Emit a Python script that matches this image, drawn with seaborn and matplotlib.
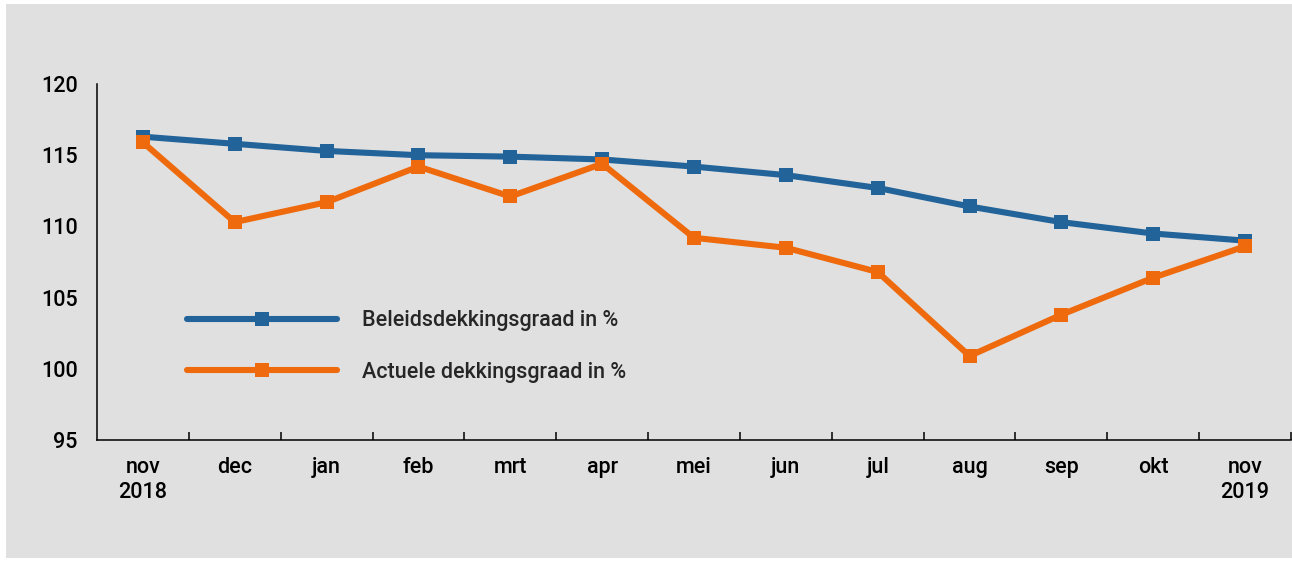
import numpy as np
import pandas as pd
import seaborn as sns
import matplotlib.pyplot as plt
from matplotlib.patches import Rectangle

months = ['nov\n2018', 'dec', 'jan', 'feb', 'mrt', 'apr', 'mei', 'jun',
          'jul', 'aug', 'sep', 'okt', 'nov\n2019']
beleids = [116.3, 115.8, 115.3, 115.0, 114.9, 114.7, 114.2, 113.6,
           112.7, 111.4, 110.3, 109.5, 109.0]
actueel = [115.9, 110.3, 111.7, 114.2, 112.1, 114.4, 109.2, 108.5,
           106.8, 100.9, 103.8, 106.4, 108.6]
series = ['Beleidsdekkingsgraad in %', 'Actuele dekkingsgraad in %']
colors = ['#22639a', '#ee6a0c']
yticks = [95, 100, 105, 110, 115, 120]

data = pd.DataFrame({
    'x': list(range(len(months))) * 2,
    'waarde': beleids + actueel,
    'reeks': [series[0]] * len(months) + [series[1]] * len(months),
})

sns.set_style('white')
plt.rcParams['font.family'] = ['Roboto', 'DejaVu Sans']
plt.rcParams['font.weight'] = 'medium'

fig = plt.figure(figsize=(12.92, 5.62), dpi=100, facecolor='white')
# grey panel behind the chart
fig.patches.append(Rectangle((6 / 1292, 4 / 562), 1 - 6 / 1292, 1 - 8 / 562,
                             transform=fig.transFigure, facecolor='#e0e0e0',
                             edgecolor='none', zorder=-10))
ax = fig.add_axes([97 / 1292, 122 / 562, 1194 / 1292, 356 / 562])
ax.set_facecolor('none')

sns.lineplot(
    data=data, x='x', y='waarde', hue='reeks', style='reeks',
    hue_order=series, style_order=series,
    palette=dict(zip(series, colors)),
    markers={s: 's' for s in series}, dashes=False,
    linewidth=4.4, markersize=10, markeredgewidth=0,
    sort=False, ax=ax,
)

ax.set_xlim(-0.5, len(months) - 0.5)
ax.set_ylim(95, 120)
ax.set_xlabel('')
ax.set_ylabel('')

ax.set_yticks(yticks)
ax.tick_params(axis='y', direction='in', length=21, width=1.1, color='black',
               pad=14, labelsize=15.5, labelcolor='black')

ax.set_xticks(range(len(months)))
ax.set_xticklabels(months, fontsize=15.5, color='black', linespacing=1.25)
ax.set_xticks(np.arange(len(months)) + 0.5, minor=True)
ax.tick_params(axis='x', which='major', length=0, pad=12)
ax.tick_params(axis='x', which='minor', direction='in', length=6, width=1.1,
               color='black', bottom=True)

for side in ['top', 'right']:
    ax.spines[side].set_visible(False)
for side in ['left', 'bottom']:
    ax.spines[side].set_color('black')
    ax.spines[side].set_linewidth(1.1)

handles, labels = ax.get_legend_handles_labels()
ax.legend(handles, labels, loc='upper left', bbox_to_anchor=(0.075, 0.364),
          frameon=False, fontsize=15.5, handlelength=7.0, handletextpad=1.15,
          labelspacing=1.4, borderpad=0, borderaxespad=0)

plt.savefig('out.png', dpi=100, facecolor=fig.get_facecolor())
plt.close()
